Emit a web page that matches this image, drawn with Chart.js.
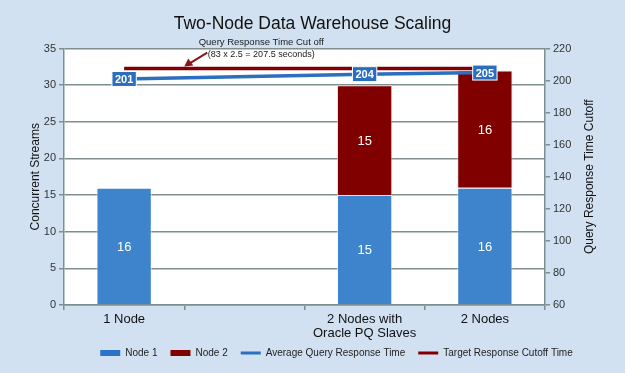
<!DOCTYPE html>
<html>
<head>
<meta charset="utf-8">
<script src="https://cdn.jsdelivr.net/npm/chart.js@4.4.8/dist/chart.umd.min.js"></script>
<style>
  html, body { margin: 0; padding: 0; background: #d1e1f2; }
  canvas { display: block; }
</style>
</head>
<body>
<canvas id="c" width="625" height="373"></canvas>
<script>
/*  Data  */

const categories = ['1 Node', '', ['2 Nodes with', 'Oracle PQ Slaves'], '2 Nodes'];
const node1 = [16, null, 15, 16];
const node2 = [null, null, 15, 16];
const avgResponse = [201, null, 204, 205];
const targetCutoff = [207.5, null, 207.5, 207.5];

const streamAxis = { min: 0, max: 35, step: 5 };
const cutoffAxis = { min: 60, max: 220, step: 20 };

const FONT = "'Liberation Sans', Arial, Helvetica, sans-serif";
const GRID = '#7f8f8f';
const BLUE = '#3d84cc';
const DARKRED = '#800000';
const LINEBLUE = '#2c6fbe';


/*  Plugins  */

const background = {
    id: 'background',
    beforeDraw(chart) {
        const { ctx, chartArea: a } = chart;
        ctx.save();
        ctx.fillStyle = '#d1e1f2';
        ctx.fillRect(0, 0, chart.width, chart.height);
        ctx.fillStyle = '#ffffff';
        ctx.fillRect(a.left, a.top, a.right - a.left, a.bottom - a.top);
        ctx.restore();
    },
    afterLayout(chart) {
        // give the two-line category label room (labels are clipped to the scale box)
        chart.scales.x.bottom += 14;
        // legend sits a bit right of centre in the original
        chart.legend.left += 24;
        chart.legend.right += 24;
    }
};

const valueLabels = {
    id: 'valueLabels',
    afterDraw(chart) {
        // right axis title reads bottom-to-top like the left one
        const { ctx, chartArea: a } = chart;
        ctx.save();
        ctx.translate(590, (a.top + a.bottom) / 2);
        ctx.rotate(-Math.PI / 2);
        ctx.textAlign = 'center';
        ctx.textBaseline = 'middle';
        ctx.fillStyle = '#111111';
        ctx.font = '12px ' + FONT;
        ctx.fillText('Query Response Time Cutoff', 0, 0);
        ctx.restore();
    },
    afterDatasetsDraw(chart) {
        const ctx = chart.ctx;
        ctx.save();
        ctx.textAlign = 'center';
        ctx.textBaseline = 'middle';

        // bar segment values
        [0, 1].forEach(i => {
            const meta = chart.getDatasetMeta(i);
            const data = chart.data.datasets[i].data;
            meta.data.forEach((bar, j) => {
                if (data[j] == null) return;
                ctx.fillStyle = '#ffffff';
                ctx.font = '13px ' + FONT;
                ctx.fillText(String(data[j]), bar.x, (bar.y + bar.base) / 2 + 1);
            });
        });

        // response time boxes on the average line
        const meta = chart.getDatasetMeta(2);
        meta.data.forEach((pt, j) => {
            const v = avgResponse[j];
            if (v == null) return;
            ctx.font = 'bold 11px ' + FONT;
            const w = ctx.measureText(String(v)).width + 6;
            const h = 15;
            ctx.fillStyle = '#2a6ebd';
            ctx.fillRect(pt.x - w / 2, pt.y - h / 2, w, h);
            ctx.strokeStyle = '#ffffff';
            ctx.lineWidth = 1;
            ctx.strokeRect(pt.x - w / 2, pt.y - h / 2, w, h);
            ctx.fillStyle = '#ffffff';
            ctx.fillText(String(v), pt.x, pt.y + 1);
        });

        // cut off note with arrow
        const x = chart.scales.x;
        const y1 = chart.scales.y1;
        const tipX = x.getPixelForValue(0.5);
        const tipY = y1.getPixelForValue(targetCutoff[0]) - 2;
        ctx.strokeStyle = '#8b1414';
        ctx.fillStyle = '#8b1414';
        ctx.lineWidth = 2;
        ctx.beginPath();
        ctx.moveTo(tipX + 23, tipY - 14);
        ctx.lineTo(tipX + 5, tipY - 3);
        ctx.stroke();
        ctx.beginPath();
        ctx.moveTo(tipX, tipY);
        ctx.lineTo(tipX + 9, tipY - 1);
        ctx.lineTo(tipX + 4, tipY - 8);
        ctx.closePath();
        ctx.fill();

        ctx.fillStyle = '#1a1a1a';
        ctx.font = '9.5px ' + FONT;
        ctx.fillText('Query Response Time Cut off', tipX + 77, tipY - 24);
        ctx.font = '9px ' + FONT;
        ctx.fillText('(83 x 2.5 = 207.5 seconds)', tipX + 77, tipY - 12);
        ctx.restore();
    }
};


/*  Chart  */

const ctx = document.getElementById('c').getContext('2d');

new Chart(ctx, {
    type: 'bar',
    data: {
        labels: categories,
        datasets: [
            {
                label: 'Node 1',
                data: node1,
                backgroundColor: BLUE,
                borderColor: 'rgba(255,255,255,0.6)',
                borderWidth: 1,
                stack: 'nodes',
                yAxisID: 'y',
                order: 2
            },
            {
                label: 'Node 2',
                data: node2,
                backgroundColor: DARKRED,
                borderColor: 'rgba(255,200,200,0.6)',
                borderWidth: 1,
                stack: 'nodes',
                yAxisID: 'y',
                order: 2
            },
            {
                type: 'line',
                label: 'Average Query Response Time',
                data: avgResponse,
                borderColor: LINEBLUE,
                backgroundColor: LINEBLUE,
                borderWidth: 3.5,
                pointRadius: 0,
                spanGaps: true,
                yAxisID: 'y1',
                order: 0
            },
            {
                type: 'line',
                label: 'Target Response Cutoff Time',
                data: targetCutoff,
                borderColor: DARKRED,
                backgroundColor: DARKRED,
                borderWidth: 3.5,
                pointRadius: 0,
                spanGaps: true,
                yAxisID: 'y1',
                order: 1
            }
        ]
    },
    options: {
        responsive: false,
        animation: false,
        layout: { padding: { left: 0, right: 0, top: 0, bottom: 5 } },
        datasets: {
            bar: { categoryPercentage: 1, barPercentage: 0.46 }
        },
        scales: {
            x: {
                stacked: true,
                afterFit: s => { s.height = 30; },
                grid: {
                    drawOnChartArea: false,
                    color: GRID,
                    lineWidth: 1.5,
                    tickLength: 5
                },
                border: { color: GRID, width: 1.5 },
                ticks: {
                    color: '#111111',
                    padding: 2,
                    maxRotation: 0,
                    autoSkip: false,
                    font: { family: FONT, size: 13, lineHeight: 1.08 }
                }
            },
            y: {
                stacked: true,
                position: 'left',
                min: streamAxis.min,
                max: streamAxis.max,
                afterFit: s => { s.width = 64; },
                grid: { color: GRID, lineWidth: 1.5, tickLength: 5 },
                border: { color: GRID, width: 1.5 },
                ticks: {
                    stepSize: streamAxis.step,
                    color: '#333333',
                    padding: 3,
                    font: { family: FONT, size: 11 }
                },
                title: {
                    display: true,
                    text: 'Concurrent Streams',
                    color: '#111111',
                    padding: { top: 28, bottom: 0 },
                    font: { family: FONT, size: 12 }
                }
            },
            y1: {
                position: 'right',
                min: cutoffAxis.min,
                max: cutoffAxis.max,
                afterFit: s => { s.width = 80; },
                grid: { drawOnChartArea: false, color: GRID, lineWidth: 1.5, tickLength: 5 },
                border: { color: GRID, width: 1.5 },
                ticks: {
                    stepSize: cutoffAxis.step,
                    color: '#333333',
                    padding: 3,
                    font: { family: FONT, size: 11 }
                }
            }
        },
        plugins: {
            title: {
                display: true,
                text: 'Two-Node Data Warehouse Scaling',
                color: '#111111',
                padding: { top: 13.5, bottom: 14 },
                font: { family: FONT, size: 17.5, weight: 'normal' }
            },
            legend: {
                position: 'bottom',
                labels: {
                    usePointStyle: true,
                    pointStyleWidth: 20,
                    boxHeight: 6,
                    padding: 13,
                    color: '#222222',
                    font: { family: FONT, size: 10 },
                    generateLabels: chart => chart.data.datasets.map((ds, i) => ({
                        text: ds.label,
                        fillStyle: ds.type === 'line' ? ds.borderColor : '#2b73c6',
                        strokeStyle: ds.type === 'line' ? ds.borderColor : ds.backgroundColor,
                        lineWidth: ds.type === 'line' ? 3 : 0,
                        pointStyle: ds.type === 'line' ? 'line' : 'rect',
                        fontColor: '#222222',
                        hidden: false,
                        datasetIndex: i
                    })).map(item => {
                        if (item.datasetIndex === 1) item.fillStyle = DARKRED;
                        return item;
                    })
                }
            },
            tooltip: { enabled: false }
        }
    },
    plugins: [background, valueLabels]
});
</script>
</body>
</html>
